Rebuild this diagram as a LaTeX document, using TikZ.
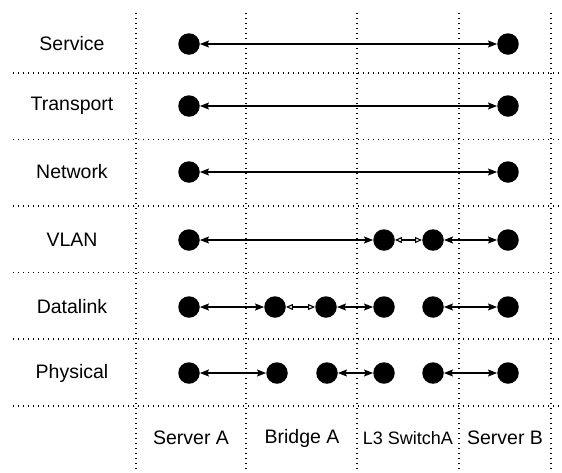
\documentclass[tikz,border=0pt]{standalone}
\usepackage{fontspec}
\setmainfont{Liberation Sans}
\usetikzlibrary{arrows.meta, positioning}

\begin{document}
\begin{tikzpicture}[
    x=1pt, y=-1pt,
    dot/.style={circle, fill=black, inner sep=0pt, minimum size=21.5pt},
    grid/.style={line width=1.4pt, dash pattern=on 1.4pt off 3.6pt},
    link/.style={{Stealth[length=9pt, width=7pt, inset=1.5pt]}-{Stealth[length=9pt, width=7pt, inset=1.5pt]}, line width=1.1pt},
    vlink/.style={{Triangle[open, length=7pt, width=6pt]}-{Triangle[open, length=7pt, width=6pt]}, line width=1.1pt},
    layer/.style={font=\fontsize{19.5}{22}\selectfont},
    host/.style={font=\fontsize{19.5}{22}\selectfont}
]
\useasboundingbox (0,0) rectangle (562,472);

% Grid
\foreach \y in {73,139.5,206,272.5,339,406}
    \draw[grid] (13,\y) -- (562,\y);
\foreach \x in {136,246,357,459,551}
    \draw[grid] (\x,13) -- (\x,472);

% Layer names
\node[layer] (lsvc) at (72,44) {Service};
\node[layer] (ltrn) at (72,106) {Transport};
\node[layer] (lnet) at (72,172) {Network};
\node[layer] (lvlan) at (72,240) {VLAN};
\node[layer] (ldl) at (72,307) {Datalink};
\node[layer] (lphy) at (72,373) {Physical};

% Devices
\node[host] (hsa) at (191,438) {Server A};
\node[host] (hba) at (302,438) {Bridge A};
\node[host, font=\fontsize{18}{20}\selectfont] (hl3) at (408,438) {L3 SwitchA};
\node[host] (hsb) at (505,438) {Server B};

% Service / Transport / Network
\node[dot] (svcA) at (189,44) {};
\node[dot] (svcB) at (508,44) {};
\node[dot] (trnA) at (189,106) {};
\node[dot] (trnB) at (508,106) {};
\node[dot] (netA) at (189,172) {};
\node[dot] (netB) at (508,172) {};
\draw[link] (svcA) -- (svcB);
\draw[link] (trnA) -- (trnB);
\draw[link] (netA) -- (netB);

% VLAN
\node[dot] (vlanA) at (189,240) {};
\node[dot] (vlanL1) at (384,240) {};
\node[dot] (vlanL2) at (433,240) {};
\node[dot] (vlanB) at (508,240) {};
\draw[link] (vlanA) -- (vlanL1);
\draw[vlink] (vlanL1) -- (vlanL2);
\draw[link] (vlanL2) -- (vlanB);

% Datalink
\node[dot] (dlA) at (189,307) {};
\node[dot] (dlBr1) at (275,307) {};
\node[dot] (dlBr2) at (326,307) {};
\node[dot] (dlL1) at (384,307) {};
\node[dot] (dlL2) at (433,307) {};
\node[dot] (dlB) at (508,307) {};
\draw[link] (dlA) -- (dlBr1);
\draw[vlink] (dlBr1) -- (dlBr2);
\draw[link] (dlBr2) -- (dlL1);
\draw[link] (dlL2) -- (dlB);

% Physical
\node[dot] (phyA) at (189,373) {};
\node[dot] (phyBr1) at (277,373) {};
\node[dot] (phyBr2) at (327,373) {};
\node[dot] (phyL1) at (384,373) {};
\node[dot] (phyL2) at (433,373) {};
\node[dot] (phyB) at (508,373) {};
\draw[link] (phyA) -- (phyBr1);
\draw[link] (phyBr2) -- (phyL1);
\draw[link] (phyL2) -- (phyB);

\end{tikzpicture}
\end{document}
